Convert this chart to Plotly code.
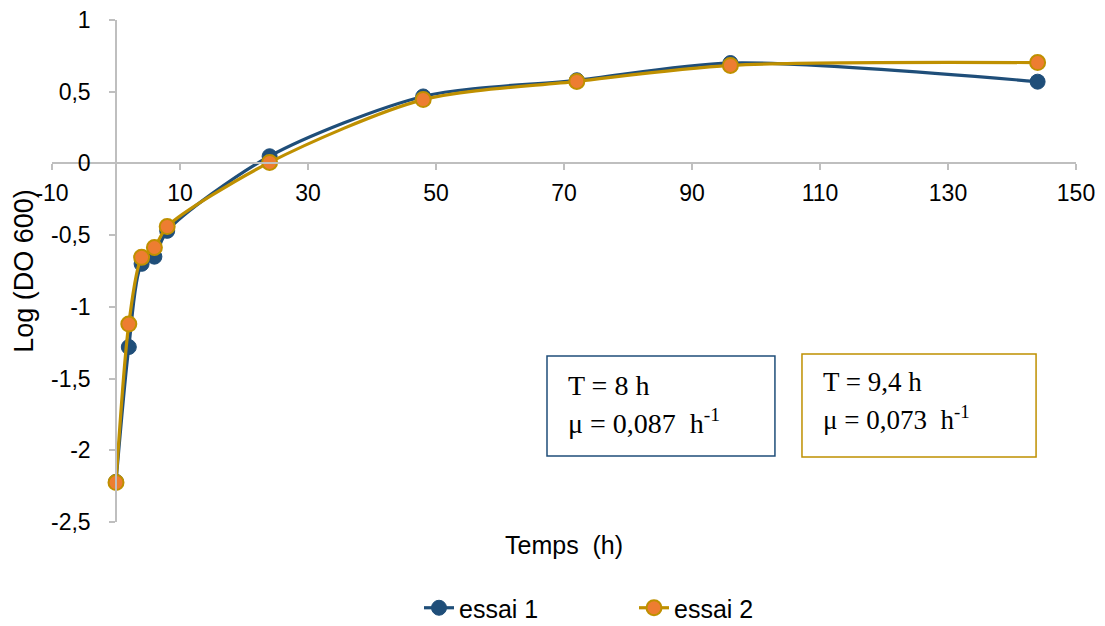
import plotly.graph_objects as go

# Data
temps = [0, 2, 4, 6, 8, 24, 48, 72, 96, 144]
essai_1 = [-2.22, -1.28, -0.70, -0.65, -0.47, 0.05, 0.467, 0.58, 0.70, 0.57]
essai_2 = [-2.225, -1.12, -0.655, -0.586, -0.44, 0.007, 0.445, 0.572, 0.683, 0.703]

x_tickvals = [-10, 10, 30, 50, 70, 90, 110, 130, 150]
x_ticktext = ["-10", "10", "30", "50", "70", "90", "110", "130", "150"]
y_tickvals = [1, 0.5, 0, -0.5, -1, -1.5, -2, -2.5]
y_ticktext = ["1", "0,5", "0", "-0,5", "-1", "-1,5", "-2", "-2,5"]

BLUE = "#1F4E79"
GOLD = "#BF9000"
ORANGE = "#ED7D31"
AXIS = "#BFBFBF"
FONT = "Liberation Sans, Arial, sans-serif"
SERIF = "Liberation Serif, Times New Roman, serif"

fig = go.Figure()
fig.add_trace(go.Scatter(
    x=temps, y=essai_1, name="essai 1", mode="lines+markers",
    line=dict(color=BLUE, width=3.2, shape="spline", smoothing=0.8),
    marker=dict(color=BLUE, size=15, line=dict(color=BLUE, width=1)),
))
fig.add_trace(go.Scatter(
    x=temps, y=essai_2, name="essai 2", mode="lines+markers",
    line=dict(color=GOLD, width=3.2, shape="spline", smoothing=0.8),
    marker=dict(color=ORANGE, size=15, line=dict(color=GOLD, width=2)),
))

x_rng = [-10, 150]
y_rng = [-2.5, 1]

fig.update_layout(
    width=1105, height=626,
    margin=dict(l=44, r=37, t=12, b=112, autoexpand=False),
    paper_bgcolor="white", plot_bgcolor="white",
    font=dict(family=FONT, color="#000000", size=23),
    separators=", ",
    showlegend=True,
    legend=dict(orientation="h", x=(419 - 52) / 1024, xanchor="left",
                yref="container", y=1 - 600 / 626, yanchor="middle",
                font=dict(size=25), entrywidth=170, entrywidthmode="pixels", tracegroupgap=0),
    xaxis=dict(range=x_rng, domain=[0, 1], anchor="free", automargin=False,
               position=(0 - y_rng[0]) / (y_rng[1] - y_rng[0]),
               tickvals=x_tickvals, ticktext=x_ticktext, ticklabeloverflow="allow",
               showgrid=False, zeroline=False, showline=True, linecolor=AXIS, linewidth=1.5,
               ticks="outside", ticklen=6, tickcolor=AXIS, tickwidth=1.5,
               ticklabelstandoff=3, tickfont=dict(size=23)),
    yaxis=dict(range=y_rng, domain=[0, 1], anchor="free", automargin=False,
               position=(0 - x_rng[0]) / (x_rng[1] - x_rng[0]),
               tickvals=y_tickvals, ticktext=y_ticktext, ticklabeloverflow="allow",
               showgrid=False, zeroline=False, showline=True, linecolor=AXIS, linewidth=1.5,
               ticks="outside", ticklen=6, tickcolor=AXIS, tickwidth=1.5,
               ticklabelstandoff=14, tickfont=dict(size=23)),
)

# Axis titles
fig.add_annotation(text="Log (DO 600)", xref="paper", yref="paper", x=-0.0275, y=0.5,
                   textangle=-90, showarrow=False, font=dict(size=27),
                   xanchor="center", yanchor="middle")
fig.add_annotation(text="Temps  (h)", xref="paper", yref="paper", x=0.5, y=-0.046,
                   showarrow=False, font=dict(size=25), xanchor="center", yanchor="middle")

# Text boxes
fig.add_shape(type="rect", xref="paper", yref="paper", x0=0.4834, x1=0.706, y0=0.1315, y1=0.3307,
              line=dict(color=BLUE, width=1.5), fillcolor="white")
fig.add_shape(type="rect", xref="paper", yref="paper", x0=0.7324, x1=0.961, y0=0.1295, y1=0.3347,
              line=dict(color=GOLD, width=1.5), fillcolor="white")

box_texts = [
    ("T = 8 h", (566 - 52) / 1024, (522 - 385) / 502, 28),
    ("μ = 0,087  h<sup>-1</sup>", (566 - 52) / 1024, (522 - 421) / 502, 28),
    ("T = 9,4 h", (821 - 52) / 1024, (522 - 382) / 502, 27),
    ("μ = 0,073  h<sup>-1</sup>", (821 - 52) / 1024, (522 - 418) / 502, 27),
]
for t, xp, yp, sz in box_texts:
    fig.add_annotation(text=t, xref="paper", yref="paper", x=xp, y=yp, showarrow=False,
                       xanchor="left", yanchor="middle", align="left",
                       font=dict(family=SERIF, size=sz, color="#000000"))

fig.write_html("out.html")
